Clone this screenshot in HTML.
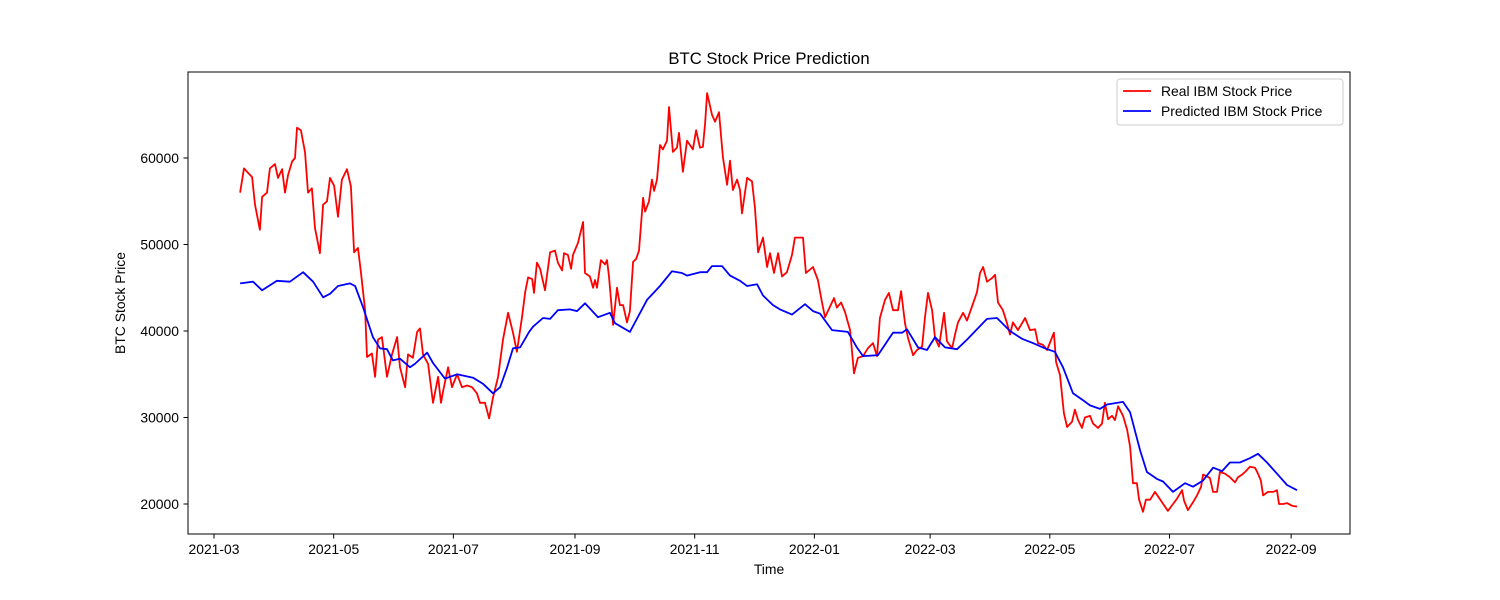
<!DOCTYPE html>
<html><head><meta charset="utf-8"><style>
html,body{margin:0;padding:0;background:#fff;}
svg{display:block;font-family:"Liberation Sans","DejaVu Sans",sans-serif;}
</style></head><body>
<svg id="chart" width="1500" height="600" viewBox="0 0 1500 600">
<rect x="0" y="0" width="1500" height="600" fill="#fff"/>
<text x="769" y="64" text-anchor="middle" font-size="16.7" fill="#000">BTC Stock Price Prediction</text>
<g id="xticks"></g>
<g id="yticks"></g>
<g id="series"></g>
<rect x="188" y="72" width="1162" height="462" fill="none" stroke="#000" stroke-width="1"/>
<text x="769" y="574" text-anchor="middle" font-size="13.9">Time</text>
<text transform="translate(125,303) rotate(-90)" text-anchor="middle" font-size="13.9">BTC Stock Price</text>
<g>
<rect x="1117" y="79" width="226" height="46" rx="3" fill="#fff" fill-opacity="0.8" stroke="#ccc"/>
<line x1="1123" y1="91" x2="1151" y2="91" stroke="#f00" stroke-width="1.8"/>
<text x="1161" y="96" font-size="13.9">Real IBM Stock Price</text>
<line x1="1123" y1="111" x2="1151" y2="111" stroke="#00f" stroke-width="1.8"/>
<text x="1161" y="116" font-size="13.9">Predicted IBM Stock Price</text>
</g>
</svg>
<script>
// days since 2021-03-01
const realDays=[13.3,15.3,17.3,19.4,20.9,23.4,24.5,27,28.5,31.1,32.6,34.7,36.2,37.7,39.8,41.3,42.3,44.3,46.4,47.9,49.9,51.5,54,55.6,57.6,59.1,61.2,63.2,65.2,67.8,69.8,71.4,73.4,74.9,77,78,80.5,82.1,83.6,85.6,88.2,90.7,93.3,94.8,97.4,98.9,101.4,103.5,105,106.5,109.1,111.6,114.2,115.7,116.7,119.3,121.3,123.9,126.4,129,131.5,134,135.6,138.1,140.2,142.2,144.8,147.3,149.9,152.4,154.4,157,158.6,160.1,162.2,163.1,164.6,166.2,168.7,171.3,173.8,175.3,177.4,178.4,180.4,182,183,185.5,188.1,189.1,191.6,193.2,194.2,195.2,197.2,199.3,200.3,201.3,203.4,205.4,206.9,208.5,210.5,212,213.6,215.1,216.6,218.7,219.7,221.7,223.2,224.3,225.8,227.3,228.8,230.9,231.9,233.9,236,237,239,241.1,244.1,245.7,247.7,249.2,250.3,251.3,253.8,255.4,257.4,259.4,261.5,263,264.5,266.6,268.1,269.1,271.7,274.2,275.7,277.3,279.8,281.9,283.4,285.4,287.5,289.5,292,294.6,296.1,300.2,301.7,305.3,307.8,309.9,311.4,316,317.5,319.6,321.6,324.2,326.2,328.2,330.8,333.3,335.9,337.9,339.4,342,344,346.1,348.6,350.2,352.2,353.7,356.3,358.3,360.9,362.4,363.9,366,367.5,369.5,372.1,373.6,376.2,377.7,379.2,381.8,383.8,386.3,388.9,390.4,392,394,396.5,398.1,399.6,402.1,404.2,405.7,407.2,409.8,413.4,415.9,418.5,420,422.5,424.6,428.1,429.2,431.2,433.2,434.8,437.3,438.8,440.4,442.4,443.9,446.5,448,450.6,452.6,454.1,455.7,457.7,459.2,460.8,463.3,465.4,466.9,468.4,470.4,471.5,473.5,475,477.1,479.6,483.2,486.2,488.8,490.8,493.4,494.4,496.4,499,501,503.1,504.1,506.1,507.6,509.2,511.2,512.7,515.3,517.8,520.4,521.9,524,525.5,528,530.6,532.1,533.6,534.7,537.2,539.8,541.8,542.8,544.9,546.9,549.4,552];
const realPrices=[56000,58800,58300,57800,54600,51700,55500,56000,58800,59300,57700,58700,56000,58000,59600,60000,63500,63200,60700,56000,56500,51900,49000,54600,55000,57700,56800,53200,57500,58700,56700,49100,49600,46700,42400,37000,37400,34700,39000,39300,34700,37300,39300,35800,33500,37300,36900,39900,40300,37300,36200,31700,34700,31700,33000,35800,33500,35000,33500,33700,33500,32800,31700,31700,29900,32300,34700,39000,42100,39800,37600,41600,44500,46200,46000,44400,47900,47200,44700,49100,49300,47900,47000,49000,48800,47200,48800,50200,52600,46700,46300,45000,45900,45000,48200,47700,48200,46300,40700,45000,43000,43000,41000,42300,48000,48300,49300,55400,53800,55000,57500,56200,57500,61500,61000,62000,65900,60700,61200,62900,58400,62000,61000,63200,61200,61300,64000,67500,65000,64200,65300,60100,56900,59700,56300,57500,56300,53600,57700,57300,54300,49100,50800,47400,49000,46700,49000,46300,46800,48800,50800,50800,46700,47400,45900,43300,41600,43800,42700,43300,42200,40100,35100,36900,37100,38000,38600,37100,41500,43600,44400,42400,42400,44600,40900,39200,37200,37800,38200,41600,44400,42400,39200,38200,42100,38800,38000,39600,41000,42100,41200,42800,44500,46700,47400,45700,46100,46500,43300,42400,40900,39600,41000,40100,41500,40100,40200,38600,38400,37800,39800,36400,34900,30500,28900,29500,30900,29700,28800,30000,30200,29300,28800,29300,31700,29800,30200,29700,31300,30200,28600,26600,22400,22400,20500,19100,20500,20500,21400,20200,19200,20000,20600,21600,20400,19300,20200,21000,22000,23400,23200,23000,21400,21400,23700,23500,23100,22500,23100,23400,23700,24300,24200,23500,22700,21000,21400,21400,21600,20000,20000,20100,19800,19700];
const predDays=[13.3,19.9,24.5,32.1,38.7,45.4,50.5,55.6,59.1,63.2,69.3,71.9,75.9,81,84.6,88.2,91.2,94.8,99.9,102.4,108.6,111.6,117.7,123.9,132,137.1,142.2,145.8,149.3,152.4,156,160.6,162.6,167.7,171.3,175.3,181.4,185,189.1,195.7,201.8,204.4,212,220.7,227.3,233.4,238.5,241.1,247.7,251.3,253.8,258.9,263,268.1,271.7,276.8,279.8,284.9,288.5,294.6,301.2,305.3,308.9,315,323.1,327.7,330.8,338.4,346.1,350.7,353.2,358.8,363.4,367.5,372.6,378.7,383.8,388.9,394,399.1,405.7,411.8,417.4,423.5,428.6,432.7,437.8,442.9,446.5,451.6,455.1,463.3,466.9,472,475.5,480.6,483.7,488.8,494.9,499,504.1,509.2,513.8,517.8,522.9,528,532.1,536.7,541.8,546.9,552];
const predPrices=[45500,45700,44700,45800,45700,46800,45700,43900,44300,45200,45500,45200,42800,39300,38000,37900,36600,36800,35800,36200,37500,36300,34500,35000,34600,33900,32800,33500,35700,38000,38100,39900,40500,41500,41400,42400,42500,42300,43200,41600,42100,40900,39900,43600,45200,46900,46700,46400,46800,46800,47500,47500,46400,45800,45200,45400,44100,43000,42500,41900,43100,42300,42000,40100,39900,38100,37100,37200,39800,39800,40200,38100,37800,39300,38100,37900,39000,40200,41400,41500,40000,39100,38600,38000,37600,35800,32800,32000,31400,31000,31500,31800,30600,26200,23700,22900,22600,21400,22400,22000,22700,24200,23800,24800,24800,25300,25800,24800,23500,22200,21600];
const yTickValues=[20000,30000,40000,50000,60000];
const xTickLabels=["2021-03","2021-05","2021-07","2021-09","2021-11","2022-01","2022-03","2022-05","2022-07","2022-09"];

const NS="http://www.w3.org/2000/svg";
const base=Date.UTC(2021,2,1);
function dayOf(label){const p=label.split("-");return (Date.UTC(+p[0],+p[1]-1,1)-base)/86400000;}
function xScale(d){return 214+d*1.962;}
function yScale(v){return 504-(v-20000)*0.00865;}

const xg=document.getElementById("xticks");
xTickLabels.forEach(l=>{
  const x=xScale(dayOf(l));
  const t=document.createElementNS(NS,"line");
  t.setAttribute("x1",x);t.setAttribute("x2",x);t.setAttribute("y1",534);t.setAttribute("y2",538.5);t.setAttribute("stroke","#000");
  
  
  xg.appendChild(t);
  const s=document.createElementNS(NS,"text");
  s.setAttribute("x",x);s.setAttribute("y",554);s.setAttribute("text-anchor","middle");s.setAttribute("font-size","13.9");
  s.textContent=l;
  
  
  xg.appendChild(s);
});
const yg=document.getElementById("yticks");
yTickValues.forEach(v=>{
  const y=yScale(v);
  const t=document.createElementNS(NS,"line");
  t.setAttribute("x1",183.5);t.setAttribute("x2",188);t.setAttribute("y1",y);t.setAttribute("y2",y);t.setAttribute("stroke","#000");
  
  
  yg.appendChild(t);
  const s=document.createElementNS(NS,"text");
  s.setAttribute("x",179);s.setAttribute("y",y+5);s.setAttribute("text-anchor","end");s.setAttribute("font-size","13.9");
  s.textContent=String(v);
  
  
  yg.appendChild(s);
});
function path(days,vals){return days.map((d,i)=>(i?"L":"M")+xScale(d).toFixed(1)+","+yScale(vals[i]).toFixed(1)).join("");}
const sg=document.getElementById("series");
const pr=document.createElementNS(NS,"path");
pr.setAttribute("d",path(realDays,realPrices));pr.setAttribute("fill","none");pr.setAttribute("stroke","#f00");pr.setAttribute("stroke-width","1.8");pr.setAttribute("stroke-linejoin","round");


sg.appendChild(pr);
const pp=document.createElementNS(NS,"path");
pp.setAttribute("d",path(predDays,predPrices));pp.setAttribute("fill","none");pp.setAttribute("stroke","#00f");pp.setAttribute("stroke-width","1.8");pp.setAttribute("stroke-linejoin","round");


sg.appendChild(pp);
</script>
</body></html>
